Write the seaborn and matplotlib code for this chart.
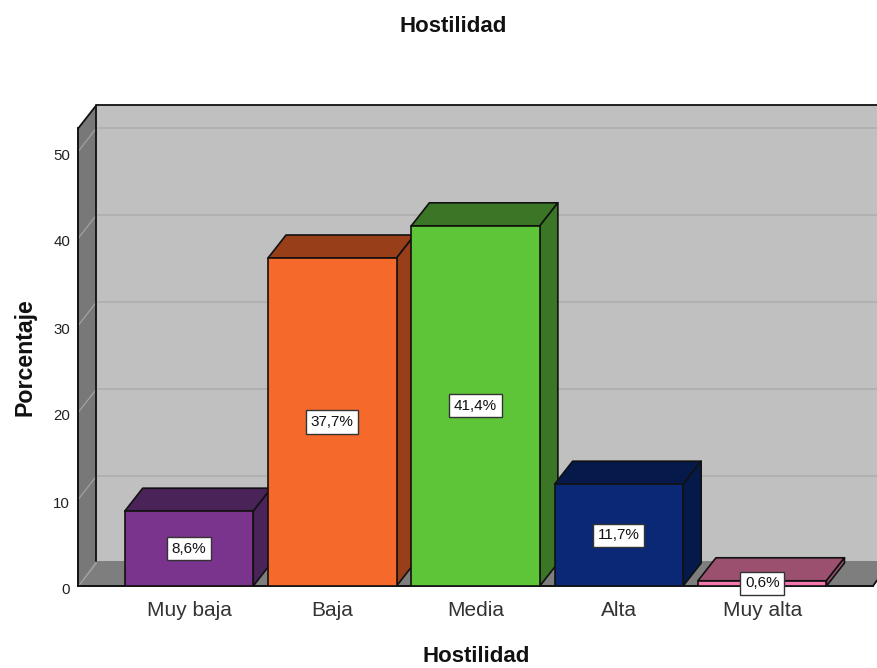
import matplotlib.pyplot as plt
import pandas as pd
import seaborn as sns
from matplotlib.patches import Polygon
from matplotlib.transforms import ScaledTranslation

categories = ["Muy baja", "Baja", "Media", "Alta", "Muy alta"]
percentages = [8.6, 37.7, 41.4, 11.7, 0.6]
front_colors = ["#7A348E", "#F5692A", "#5EC438", "#0A2876", "#F478AE"]
depth_colors = ["#4A2358", "#983F1A", "#3A7626", "#051A4A", "#9C5070"]
y_ticks = [0, 10, 20, 30, 40, 50]

WIDTH, HEIGHT = 878, 668
LEFT, RIGHT, BOTTOM, TOP = 78.5, 873, 586, 128
PX_PER_CAT, PX_PER_UNIT = 143.3, 8.7
FIRST_CENTER = 189
DEPTH_X = 18 / PX_PER_CAT
DEPTH_Y = 23 / PX_PER_UNIT
FLOOR_Y = 25 / PX_PER_UNIT
EDGE = "#111111"

sns.set_theme(style="white")
plt.rcParams["font.family"] = ["Liberation Sans", "DejaVu Sans"]

df = pd.DataFrame({"nivel": categories, "pct": percentages})

fig = plt.figure(figsize=(WIDTH / 100, HEIGHT / 100), dpi=100)
ax = fig.add_axes(
    [LEFT / WIDTH, 1 - BOTTOM / HEIGHT, (RIGHT - LEFT) / WIDTH, (BOTTOM - TOP) / HEIGHT]
)

sns.barplot(
    data=df,
    x="nivel",
    y="pct",
    hue="nivel",
    palette=front_colors,
    order=categories,
    hue_order=categories,
    width=0.897,
    saturation=1,
    legend=False,
    edgecolor=EDGE,
    linewidth=1.2,
    ax=ax,
)
bars = list(ax.patches)

ax.set_xlim((LEFT - FIRST_CENTER) / PX_PER_CAT, (RIGHT - FIRST_CENTER) / PX_PER_CAT)
ax.set_ylim(0, (BOTTOM - TOP) / PX_PER_UNIT)
x0, x1 = ax.get_xlim()
y1 = ax.get_ylim()[1]


def add_poly(points, color, z, edge=EDGE):
    ax.add_patch(
        Polygon(
            points,
            closed=True,
            facecolor=color,
            edgecolor=edge,
            linewidth=1.2,
            zorder=z,
            clip_on=False,
            joinstyle="round",
        )
    )


def add_line(xs, ys, color=EDGE, lw=1.3, z=1.0):
    ax.plot(xs, ys, color=color, lw=lw, zorder=z, clip_on=False)


# back wall, left wall and floor of the 3d box
add_poly(
    [(x0 + DEPTH_X, FLOOR_Y), (x1 + DEPTH_X, FLOOR_Y),
     (x1 + DEPTH_X, y1 + DEPTH_Y), (x0 + DEPTH_X, y1 + DEPTH_Y)],
    "#C0C0C0", 0.5, edge="none",
)
add_poly(
    [(x0, 0), (x0 + DEPTH_X, FLOOR_Y), (x0 + DEPTH_X, y1 + DEPTH_Y), (x0, y1)],
    "#787878", 0.6, edge="none",
)
add_poly(
    [(x0, 0), (x1, 0), (x1 + DEPTH_X, FLOOR_Y), (x0 + DEPTH_X, FLOOR_Y)],
    "#7E7E7E", 0.6, edge="none",
)

for v in y_ticks:
    add_line([x0, x0 + DEPTH_X], [v, v + DEPTH_Y], color="#A2A2A2", lw=0.9, z=0.8)
    if v > 0:
        add_line(
            [x0 + DEPTH_X, x1 + DEPTH_X], [v + DEPTH_Y, v + DEPTH_Y],
            color="#B0B0B0", lw=1.3, z=0.8,
        )

add_line([x0, x0 + DEPTH_X, x1 + DEPTH_X], [y1, y1 + DEPTH_Y, y1 + DEPTH_Y])
add_line([x0 + DEPTH_X, x0 + DEPTH_X], [FLOOR_Y, y1 + DEPTH_Y])
add_line([x1, x1 + DEPTH_X], [0, FLOOR_Y])

# bars get a top and a side face, later bars sit over earlier ones
for i, (bar, side) in enumerate(zip(bars, depth_colors)):
    left = bar.get_x()
    right = left + bar.get_width()
    h = bar.get_height()
    z = 3 + i
    bar.set_zorder(z + 0.1)
    add_poly(
        [(left, h), (right, h), (right + DEPTH_X, h + DEPTH_Y), (left + DEPTH_X, h + DEPTH_Y)],
        side, z,
    )
    add_poly(
        [(right, 0), (right + DEPTH_X, DEPTH_Y), (right + DEPTH_X, h + DEPTH_Y), (right, h)],
        side, z,
    )
    ax.text(
        left + bar.get_width() / 2,
        h / 2,
        f"{percentages[i]:.1f}%".replace(".", ","),
        ha="center",
        va="center",
        fontsize=11,
        color=EDGE,
        zorder=20,
        bbox=dict(boxstyle="square,pad=0.3", facecolor="white", edgecolor="#333333", linewidth=1),
    )

sns.despine(ax=ax, top=True, right=True)
for name in ["left", "bottom"]:
    ax.spines[name].set_color(EDGE)
    ax.spines[name].set_linewidth(1.4)

ax.set_yticks(y_ticks)
ax.tick_params(axis="y", length=0, pad=6, labelsize=10.8, labelcolor="#222222")
ax.tick_params(axis="x", length=0, pad=11, labelsize=15, labelcolor="#333333")
shift_down = ScaledTranslation(0, -3 / 100, fig.dpi_scale_trans)
for lab in ax.get_yticklabels():
    lab.set_transform(lab.get_transform() + shift_down)

ax.set_xlabel("Hostilidad", fontsize=16, fontweight="bold", color=EDGE)
ax.xaxis.set_label_coords(0.5, -(646 - BOTTOM) / (BOTTOM - TOP))
ax.set_ylabel("Porcentaje", fontsize=16.7, fontweight="bold", color=EDGE)
ax.yaxis.set_label_coords(-(LEFT - 37) / (RIGHT - LEFT), 0.5)
fig.suptitle("Hostilidad", x=453 / WIDTH, y=1 - 26 / HEIGHT, va="center",
             fontsize=16, fontweight="bold", color=EDGE)

fig.savefig("out.png", dpi=100, facecolor="white")
